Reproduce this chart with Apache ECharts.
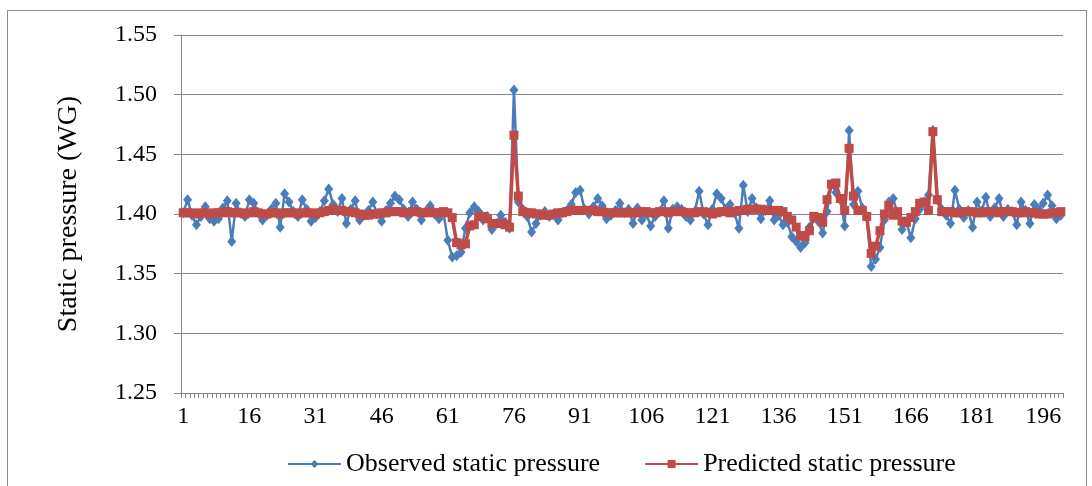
<!DOCTYPE html>
<html>
<head>
<meta charset="utf-8">
<script src="https://cdn.jsdelivr.net/npm/echarts@6/dist/echarts.min.js"></script>
<style>
  html, body { margin: 0; padding: 0; background: #fff; }
  #frame { position: absolute; left: 7px; top: 10px; width: 1078px; height: 500px; border: 1px solid #8c8c8c; }
  #main { position: absolute; left: 0; top: 0; width: 1092px; height: 486px; }
</style>
</head>
<body>
<div id="frame"></div>
<div id="main"></div>
<script>
var categories = [];
for (var i = 1; i <= 200; i++) categories.push(String(i));

var yTicks = [1.25, 1.30, 1.35, 1.40, 1.45, 1.50, 1.55];

var observed = [
  1.401, 1.412, 1.399, 1.391, 1.398, 1.406, 1.396, 1.394, 1.396, 1.405,
  1.411, 1.377, 1.409, 1.401, 1.398, 1.412, 1.409, 1.401, 1.395, 1.399,
  1.404, 1.409, 1.389, 1.417, 1.410, 1.402, 1.398, 1.412, 1.404, 1.394,
  1.397, 1.402, 1.411, 1.421, 1.408, 1.402, 1.413, 1.392, 1.404, 1.411,
  1.395, 1.399, 1.403, 1.410, 1.400, 1.394, 1.403, 1.409, 1.415, 1.412,
  1.404, 1.398, 1.410, 1.404, 1.395, 1.402, 1.407, 1.400, 1.396, 1.401,
  1.378, 1.364, 1.365, 1.368, 1.388, 1.401, 1.406, 1.402, 1.395, 1.398,
  1.387, 1.392, 1.399, 1.393, 1.388, 1.504, 1.410, 1.404, 1.398, 1.385,
  1.392, 1.399, 1.402, 1.398, 1.400, 1.395, 1.401, 1.403, 1.408, 1.418,
  1.420, 1.404, 1.400, 1.406, 1.413, 1.407, 1.396, 1.399, 1.403, 1.409,
  1.401, 1.404, 1.392, 1.405, 1.395, 1.400, 1.390, 1.398, 1.402, 1.411,
  1.388, 1.404, 1.406, 1.404, 1.398, 1.395, 1.402, 1.419, 1.400, 1.391,
  1.404, 1.417, 1.413, 1.404, 1.408, 1.401, 1.388, 1.424, 1.402, 1.413,
  1.405, 1.396, 1.403, 1.411, 1.395, 1.399, 1.391, 1.393, 1.381, 1.377,
  1.372, 1.376, 1.389, 1.397, 1.394, 1.384, 1.402, 1.425, 1.418, 1.412,
  1.390, 1.470, 1.408, 1.419, 1.405, 1.398, 1.356, 1.362, 1.372, 1.395,
  1.410, 1.413, 1.400, 1.387, 1.393, 1.380, 1.396, 1.404, 1.410, 1.416,
  1.470, 1.412, 1.404, 1.399, 1.392, 1.420, 1.404, 1.397, 1.403, 1.389,
  1.410, 1.402, 1.414, 1.398, 1.405, 1.413, 1.398, 1.404, 1.402, 1.391,
  1.410, 1.403, 1.392, 1.408, 1.404, 1.409, 1.416, 1.407, 1.396, 1.399
];

var predicted = [
  1.401, 1.401, 1.401, 1.400, 1.401, 1.401, 1.400, 1.401, 1.401, 1.401,
  1.402, 1.401, 1.401, 1.401, 1.400, 1.401, 1.402, 1.401, 1.400, 1.400,
  1.401, 1.401, 1.400, 1.401, 1.401, 1.401, 1.400, 1.401, 1.401, 1.401,
  1.400, 1.401, 1.402, 1.403, 1.404, 1.403, 1.403, 1.402, 1.402, 1.401,
  1.400, 1.399, 1.399, 1.400, 1.400, 1.401, 1.401, 1.402, 1.402, 1.402,
  1.401, 1.401, 1.402, 1.402, 1.401, 1.401, 1.402, 1.401, 1.401, 1.402,
  1.401, 1.397, 1.376, 1.374, 1.375, 1.390, 1.391, 1.398, 1.398, 1.396,
  1.392, 1.392, 1.392, 1.391, 1.389, 1.466, 1.415, 1.402, 1.401, 1.401,
  1.400, 1.400, 1.399, 1.399, 1.400, 1.401, 1.401, 1.402, 1.403, 1.403,
  1.403, 1.403, 1.403, 1.403, 1.402, 1.402, 1.401, 1.401, 1.401, 1.401,
  1.401, 1.401, 1.401, 1.401, 1.402, 1.402, 1.401, 1.401, 1.402, 1.402,
  1.401, 1.402, 1.402, 1.402, 1.401, 1.401, 1.401, 1.402, 1.402, 1.401,
  1.400, 1.401, 1.402, 1.402, 1.401, 1.402, 1.403, 1.403, 1.404, 1.404,
  1.404, 1.404, 1.403, 1.403, 1.403, 1.403, 1.402, 1.398, 1.395, 1.389,
  1.382, 1.381, 1.386, 1.398, 1.397, 1.393, 1.412, 1.425, 1.426, 1.413,
  1.403, 1.455, 1.415, 1.403, 1.403, 1.398, 1.367, 1.373, 1.386, 1.400,
  1.407, 1.399, 1.402, 1.394, 1.393, 1.397, 1.402, 1.409, 1.410, 1.403,
  1.469, 1.412, 1.402, 1.402, 1.402, 1.401, 1.401, 1.402, 1.402, 1.402,
  1.401, 1.401, 1.402, 1.402, 1.402, 1.401, 1.402, 1.402, 1.402, 1.401,
  1.401, 1.402, 1.401, 1.401, 1.400, 1.400, 1.400, 1.401, 1.401, 1.402
];

var font = '"Liberation Serif", "Times New Roman", serif';

var option = {
    animation: false,
    textStyle: { fontFamily: font },
    grid: { left: 181, right: 29, top: 35, bottom: 93 },
    legend: {
        left: 282,
        top: 446,
        itemWidth: 53,
        itemHeight: 10,
        itemGap: 44,
        textStyle: { fontFamily: font, fontSize: 26, color: '#000' },
        data: ['Observed static pressure', 'Predicted static pressure']
    },
    xAxis: {
        type: 'category',
        data: categories,
        boundaryGap: true,
        axisLine: { lineStyle: { color: '#868686', width: 1 } },
        axisTick: { show: true, interval: 0, length: 5, lineStyle: { color: '#868686' } },
        axisLabel: { interval: 14, margin: 12, fontFamily: font, fontSize: 24, color: '#000' },
        splitLine: { show: false }
    },
    yAxis: {
        type: 'value',
        min: yTicks[0],
        max: yTicks[yTicks.length - 1],
        interval: 0.05,
        name: 'Static pressure (WG)',
        nameLocation: 'middle',
        nameGap: 98,
        nameTextStyle: { fontFamily: font, fontSize: 28, color: '#000' },
        axisLine: { show: true, lineStyle: { color: '#868686', width: 1 } },
        axisTick: { show: true, length: 7, lineStyle: { color: '#868686' } },
        axisLabel: {
            margin: 24,
            fontFamily: font,
            fontSize: 24,
            color: '#000',
            formatter: function (v) { return v.toFixed(2); }
        },
        splitLine: { lineStyle: { color: '#868686', width: 1 } }
    },
    series: [
        {
            name: 'Observed static pressure',
            type: 'line',
            data: observed,
            showAllSymbol: true,
            symbol: 'diamond',
            symbolSize: [9, 11],
            itemStyle: { color: '#4a7ebb' },
            lineStyle: { color: '#4a7ebb', width: 2.5 },
            z: 2
        },
        {
            name: 'Predicted static pressure',
            type: 'line',
            data: predicted,
            showAllSymbol: true,
            symbol: 'rect',
            symbolSize: 9,
            itemStyle: { color: '#be4b48' },
            lineStyle: { color: '#be4b48', width: 3.5 },
            z: 3
        }
    ]
};

var myChart = echarts.init(document.getElementById('main'));
myChart.setOption(option);
</script>
</body>
</html>
